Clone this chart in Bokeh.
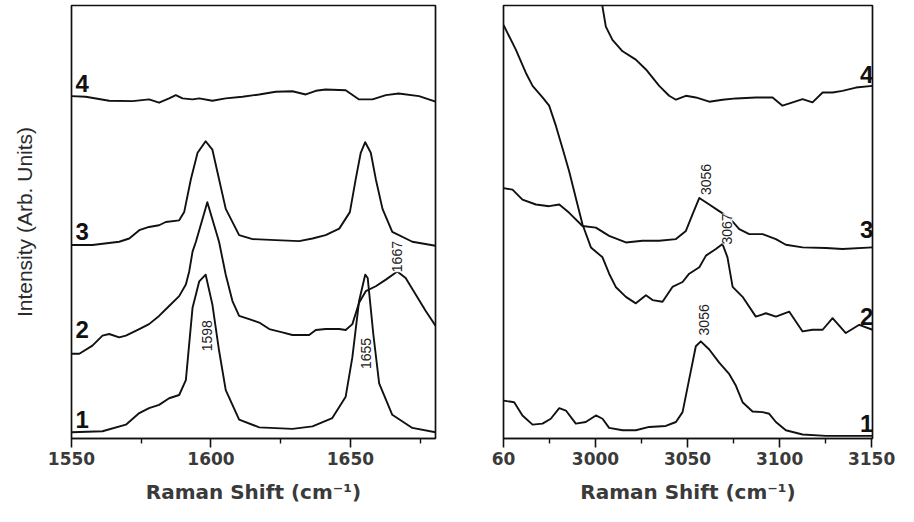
import math
from bokeh.plotting import figure
from bokeh.layouts import row
from bokeh.models import Range1d, FixedTicker
from bokeh.core.properties import value
from bokeh.embed import file_html
from bokeh.resources import INLINE

# ---------------- data: left panel (1550-1680 cm-1) ----------------
l1_x = [1550, 1561.1, 1569.5, 1574.3, 1577.8, 1581.4, 1585, 1588.6, 1591, 1593.4, 1595.8, 1598.1,
        1600.5, 1602.9, 1605.3, 1610.1, 1617.3, 1629.2, 1636.4, 1643.5, 1648.3, 1650.7, 1653.1,
        1655.3, 1656.2, 1658.2, 1660.3, 1665, 1672.2, 1680.5]
l1_y = [6.3, 7.3, 14, 25.7, 30.7, 34, 40.7, 44, 59, 132.3, 159, 165.7, 135.7, 89, 49, 19, 11.3, 9.7,
        12.3, 20.7, 42.3, 82.3, 139, 165.7, 162.3, 105.7, 55.7, 24, 10.7, 6.3]

l2_x = [1550, 1552.8, 1557.5, 1561.1, 1563.5, 1567.1, 1569.5, 1574.3, 1577.8, 1581.4, 1585, 1588.6,
        1591, 1592.2, 1593.4, 1594.6, 1598.7, 1602.9, 1605.3, 1607.7, 1610.1, 1613.7, 1617.3, 1620.9,
        1625.6, 1629.2, 1635.2, 1637.6, 1641.1, 1646, 1648.3, 1650.7, 1653.1, 1655.5, 1659.1, 1662.7,
        1666.8, 1669.8, 1673.4, 1677, 1680.5]
l2_y = [85.7, 85.7, 94, 104, 105.7, 102.3, 104, 110.7, 115.7, 124, 134, 144, 155.7, 169, 189, 199,
        239, 199, 165.7, 139, 124, 120.7, 117.3, 110.7, 107.3, 104.7, 104.7, 109.7, 110.7, 110.7,
        109.7, 115.7, 137.3, 149, 154, 160.7, 169, 162.3, 145.7, 129, 114]

l3_x = [1550, 1557.5, 1567.1, 1570.7, 1574.3, 1577.8, 1581.4, 1583.8, 1588.6, 1590.4, 1592.8, 1595.2,
        1598.1, 1600.5, 1602.9, 1605.3, 1610.1, 1614.9, 1623.2, 1631.6, 1636.4, 1641.1, 1646, 1649.8,
        1651.9, 1653.7, 1655.3, 1657.3, 1659.1, 1661.5, 1665, 1672.2, 1680.5]
l3_y = [195.7, 195.7, 199, 202.3, 210.7, 214, 215.7, 219, 220.7, 229, 262.3, 289, 300.7, 292.3,
        262.3, 232.3, 205.7, 201.7, 200.7, 199.7, 202.3, 205.7, 212.3, 229, 262.3, 289, 299.7, 289,
        262.3, 232.3, 209, 199, 195]

l4_x = [1550, 1555.1, 1563.5, 1571.9, 1577.8, 1581.4, 1585, 1587.4, 1589.8, 1593.4, 1595.8, 1600.5,
        1605.3, 1611.3, 1617.3, 1623.2, 1629.2, 1634, 1637.6, 1641.1, 1648.3, 1653.1, 1657.9, 1662.7,
        1667.3, 1674.6, 1680.5]
l4_y = [346.3, 345.7, 341.7, 341.3, 343, 339.7, 344, 347.3, 344, 343, 344, 341.7, 344, 345.7, 348,
        350.7, 351.3, 348, 351.7, 353, 352.3, 343, 343, 347.3, 349, 346.3, 340.7]

# ---------------- data: right panel (2950-3150 cm-1) ----------------
r1_x = [2950, 2955.8, 2960.3, 2965.8, 2971.2, 2975.7, 2980.3, 2983.9, 2989.3, 2994.7, 3000.2, 3003.8,
        3007.4, 3014.7, 3021.9, 3029.2, 3038.2, 3043.7, 3047.3, 3050.9, 3054.5, 3057.2, 3061.8,
        3067.2, 3072.7, 3076.3, 3079.9, 3085.3, 3090.8, 3094.4, 3098, 3103.4, 3112.5, 3125.2, 3150.5]
r1_y = [38.3, 36.7, 23.3, 14, 15, 20, 30.7, 28.3, 15, 16.7, 23.3, 20, 10.7, 8.3, 8.3, 11.7, 12.7,
        16.7, 26.7, 60, 93.3, 98.3, 90, 76.7, 65, 53.3, 36.7, 27.3, 26.7, 25, 16.7, 8.3, 4, 2.7, 2.7]

r2_x = [2950, 2956.7, 2962.1, 2965.8, 2971.2, 2974.8, 2978.4, 2982.1, 2985.7, 2989.3, 2992.9, 2997.5,
        3003.8, 3007.4, 3011, 3016.5, 3021.9, 3027.4, 3031, 3036.4, 3041.8, 3047.3, 3050.9, 3056.4,
        3060, 3065.4, 3069, 3071.7, 3074.5, 3079.9, 3087.1, 3092.6, 3098, 3105.3, 3112.5, 3117.9,
        3123.4, 3128.8, 3136, 3143.3, 3150.5]
r2_y = [418.3, 393.3, 370, 356.7, 345, 336.7, 316.7, 293.3, 270, 243.3, 216.7, 193.3, 183.3, 166.7,
        153.3, 143.3, 136.7, 145, 140, 138.3, 153.3, 158.3, 166.7, 173.3, 185, 191.7, 196.7, 183.3,
        153.3, 143.3, 123.3, 126.7, 123.3, 128.3, 108.3, 110, 110, 121.7, 106.7, 115, 110]

r3_x = [2950, 2954.9, 2960.3, 2967.6, 2974.8, 2980.3, 2985.7, 2992.9, 3000.2, 3007.4, 3016.5, 3025.5,
        3034.6, 3043.7, 3049.1, 3052.7, 3056.4, 3061.8, 3067.2, 3072.7, 3078.1, 3083.5, 3090.8, 3098,
        3103.4, 3112.5, 3125.2, 3134.2, 3150.5]
r3_y = [253.3, 251.7, 241.7, 236.7, 235, 236.7, 228.3, 215, 213.3, 205, 198.3, 200, 200, 201.7, 210,
        226.7, 243.3, 236.7, 230, 223.3, 211.7, 206.7, 206.7, 201.7, 196, 193.3, 192.7, 191.7, 193.3]

r4_x = [3002.5, 3003.8, 3005.6, 3009.2, 3014.7, 3021.9, 3027.4, 3034.6, 3040, 3043.7, 3049.1, 3054.5,
        3061.8, 3069, 3076.3, 3087.1, 3096.2, 3101.6, 3107.1, 3112.5, 3117.9, 3123.4, 3128.8, 3134.2,
        3141.5, 3150.5]
r4_y = [460, 436.7, 416.7, 403.3, 391.7, 383.3, 373.3, 356.7, 346.7, 342.7, 346.7, 345, 340.7, 342.7,
        344, 345, 345, 336.7, 340, 343.3, 340, 350, 350, 351.7, 355, 356.7]

left_ticks = [1550, 1600, 1650]
left_minor = [1575, 1625, 1675]
right_ticks = [2950, 3000, 3050, 3100, 3150]
right_minor = [2975, 3025, 3075, 3125]
right_tick_text = {2950: "60", 3000: "3000", 3050: "3050", 3100: "3100", 3150: "3150"}

trace_names = ["1", "2", "3", "4"]
left_peaks = ["1598", "1655", "1667"]
left_peak_x = [1598.4, 1655.7, 1666.8]
left_peak_y = [104, 86, 184]
right_peaks = ["3056", "3067", "3056"]
right_peak_x = [3060.3, 3071.7, 3058.7]
right_peak_y = [262, 212, 120]

X_TITLE = "Raman Shift (cm\u207b\u00b9)"
Y_TITLE = "Intensity (Arb. Units)"

TICK_FONT = "DejaVu Sans"
INK = "#111111"


def make_fig(xr, w, bl, br, bt, bb, ticks, minor):
    p = figure(width=w, height=506, x_range=Range1d(*xr), y_range=Range1d(0, 438),
               output_backend="svg", toolbar_location=None,
               min_border_left=bl, min_border_right=br, min_border_top=bt, min_border_bottom=bb)
    p.grid.visible = False
    p.outline_line_color = INK
    p.outline_line_width = 1.7
    p.background_fill_color = "white"
    p.border_fill_color = "white"
    ax = p.xaxis[0]
    ax.ticker = FixedTicker(ticks=ticks, minor_ticks=minor)
    ax.major_tick_out = 9
    ax.major_tick_in = 0
    ax.minor_tick_out = 5
    ax.minor_tick_in = 0
    ax.axis_line_width = 1.7
    ax.axis_line_color = INK
    ax.major_tick_line_width = 1.6
    ax.minor_tick_line_width = 1.4
    ax.major_tick_line_color = INK
    ax.minor_tick_line_color = INK
    ax.major_label_text_font = TICK_FONT
    ax.major_label_text_font_style = "bold"
    ax.major_label_text_font_size = "17px"
    ax.major_label_text_color = "#3a3a3a"
    ax.major_label_standoff = 4
    ax.axis_label = X_TITLE
    ax.axis_label_text_font = TICK_FONT
    ax.axis_label_text_font_style = "bold"
    ax.axis_label_text_font_size = "20px"
    ax.axis_label_text_color = "#3a3a3a"
    ax.axis_label_standoff = 12
    return p


def add_curves(p, xs_list, ys_list):
    for xs, ys in zip(xs_list, ys_list):
        p.line(xs, ys, line_color=INK, line_width=1.9, line_join="round")


def add_peak_labels(p, xs, ys, texts):
    p.text(x=xs, y=ys, text=texts, angle=math.pi / 2, text_align="center",
           text_baseline="middle", text_font=value("Liberation Sans"),
           text_font_size="14px", text_color="#222222", background_fill_color="white",
           background_fill_alpha=0.9)


def add_trace_labels(p, xs, ys, align):
    p.text(x=xs, y=ys, text=trace_names, text_align=align, text_baseline="bottom",
           text_font=value("Liberation Sans"), text_font_style="bold",
           text_font_size="24px", text_color=INK)


# left panel
p1 = make_fig((1550, 1680.5), 470, 71, 35, 3, 65, left_ticks, left_minor)
ya = p1.yaxis[0]
ya.ticker = FixedTicker(ticks=[])
ya.axis_line_color = None
ya.major_tick_line_color = None
ya.minor_tick_line_color = None
ya.axis_label = Y_TITLE
ya.axis_label_text_font = "Liberation Sans"
ya.axis_label_text_font_style = "normal"
ya.axis_label_text_font_size = "21px"
ya.axis_label_text_color = "#2a2a2a"
ya.axis_label_standoff = 36
add_curves(p1, [l1_x, l2_x, l3_x, l4_x], [l1_y, l2_y, l3_y, l4_y])
add_peak_labels(p1, left_peak_x, left_peak_y, left_peaks)
add_trace_labels(p1, [1551.4] * 4, [11, 102, 201, 351], "left")

# right panel
p2 = make_fig((2950, 3150.5), 428, 33, 26, 5, 64, right_ticks, right_minor)
p2.yaxis.visible = False
p2.xaxis[0].major_label_overrides = right_tick_text
add_curves(p2, [r1_x, r2_x, r3_x, r4_x], [r1_y, r2_y, r3_y, r4_y])
add_peak_labels(p2, right_peak_x, right_peak_y, right_peaks)
add_trace_labels(p2, [3151] * 4, [7, 115, 203, 360], "right")

layout = row(p1, p2)
open("out.html", "w").write(file_html(layout, INLINE))
